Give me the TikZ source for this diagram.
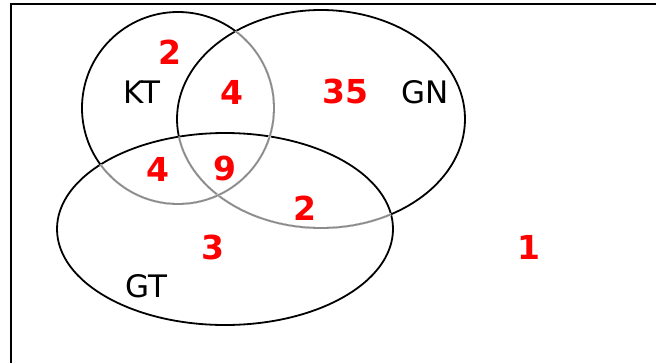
\documentclass[tikz,border=0pt]{standalone}
\usepackage{fontspec}
\setmainfont{DejaVu Sans}
\begin{document}
\begin{tikzpicture}[x=1pt,y=-1pt,
  lab/.style={font=\fontsize{31}{31}\selectfont, text=black, inner sep=0pt},
  num/.style={font=\fontsize{33}{33}\selectfont\bfseries, text=red, inner sep=0pt},
  setline/.style={line width=1.8pt, black},
  faint/.style={line width=1.8pt, black!45}]
\useasboundingbox (0,0) rectangle (656,362);
\draw[line width=2.8pt] (11,380) -- (11,4) -- (680,4);
\def\GT{(225,229) ellipse [x radius=168pt, y radius=96pt]}
\def\GN{(321,119) ellipse [x radius=144pt, y radius=109pt]}
\def\KT{(178,108) circle [radius=96pt]}
% GT
\draw[setline] \GT;
% GN
\draw[setline] \GN;
\begin{scope}\clip \GT; \draw[white, line width=2.4pt] \GN; \draw[faint] \GN; \end{scope}
% KT
\draw[setline] \KT;
\begin{scope}\clip \GN; \draw[white, line width=2.4pt] \KT; \draw[faint] \KT; \end{scope}
\begin{scope}\clip \GT; \draw[white, line width=2.4pt] \KT; \draw[faint] \KT; \end{scope}
% labels
\node[lab] (kt) at (142,92) {KT};
\node[lab] (gn) at (425,92) {GN};
\node[lab] (gt) at (146,286) {GT};
\node[num] (n2a) at (170,52) {2};
\node[num] (n4a) at (232,92) {4};
\node[num] (n35) at (345,91) {35};
\node[num] (n4b) at (158,169) {4};
\node[num] (n9) at (225,169) {9};
\node[num] (n2b) at (305,208) {2};
\node[num] (n3) at (213,247) {3};
\node[num] (n1) at (529,247) {1};
\end{tikzpicture}
\end{document}
